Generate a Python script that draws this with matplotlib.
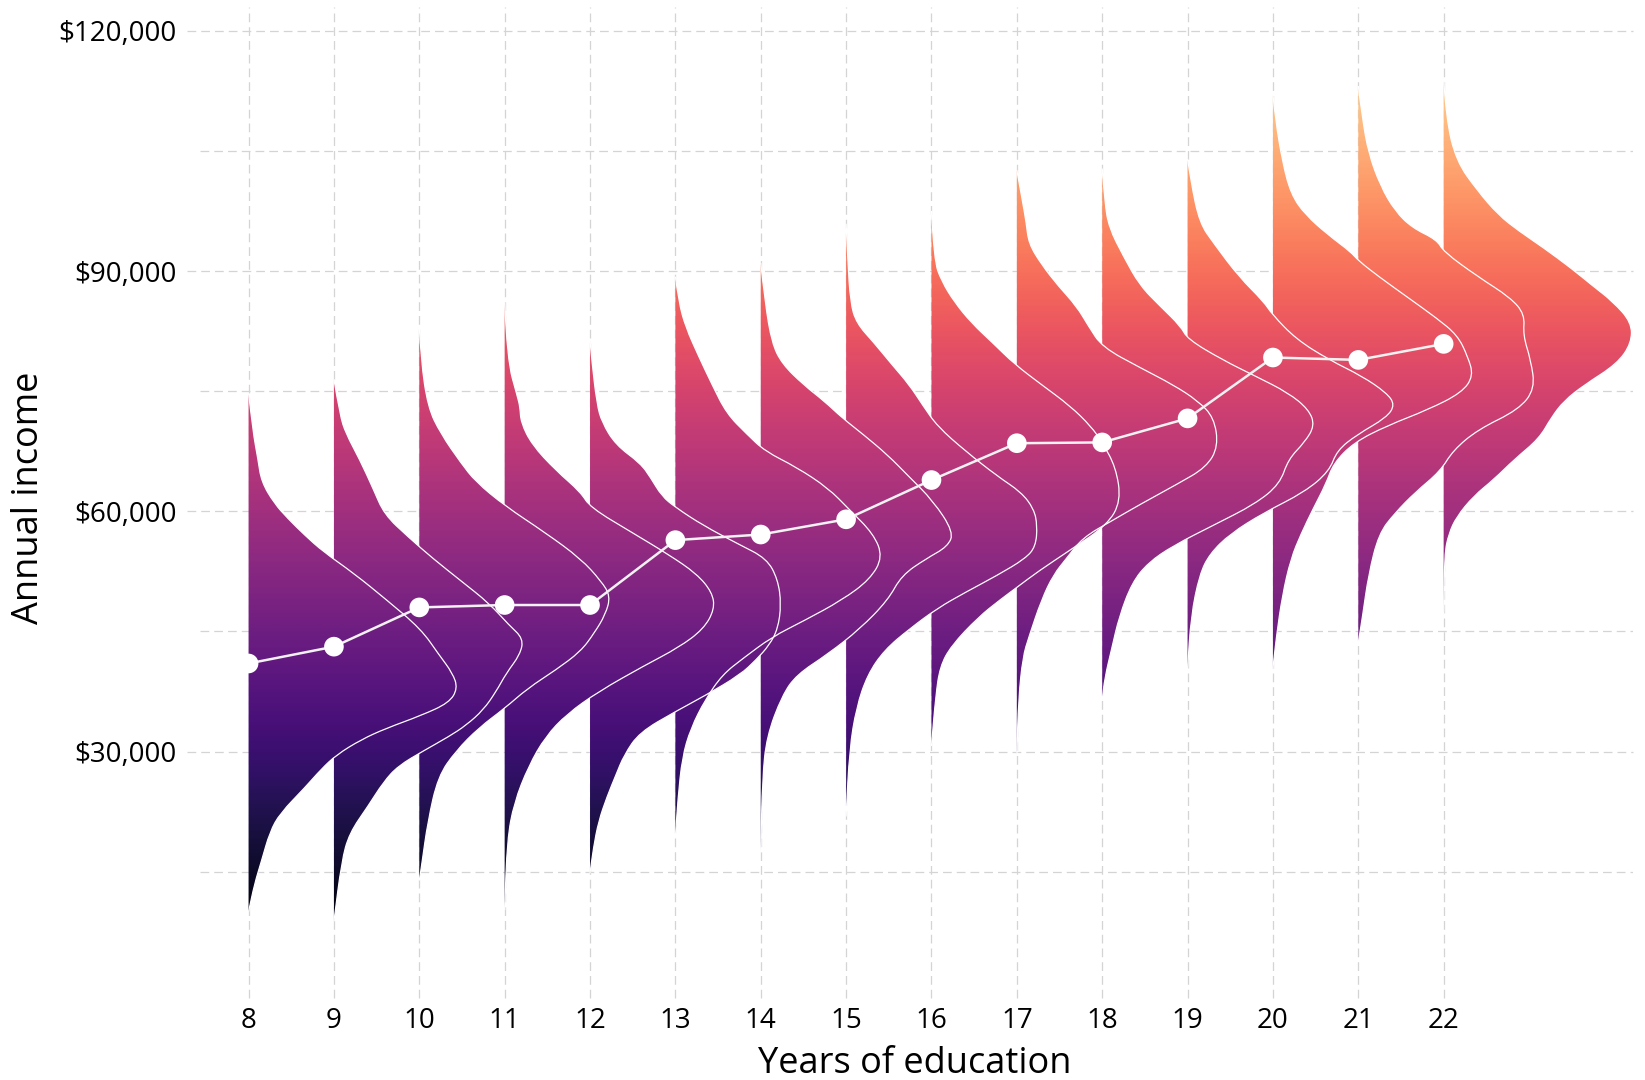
import numpy as np
import matplotlib.pyplot as plt
from matplotlib.path import Path
from matplotlib.patches import PathPatch

plt.rcParams['font.family'] = ['Open Sans', 'DejaVu Sans']

# Years of education and mean annual income (thousand $)
years = [8, 9, 10, 11, 12, 13, 14, 15, 16, 17, 18, 19, 20, 21, 22]
mean_income = [41.0, 43.1, 48.0, 48.3, 48.3, 56.4, 57.1, 59.0, 63.9,
               68.5, 68.6, 71.6, 79.2, 78.9, 80.9]

# Density profile of each group: income level (thousand $) and half-violin width (years)
inc_08 = [74.8, 70.0, 66.5, 63.7, 61.0, 59.1, 57.0, 55.0, 52.2, 49.0, 45.3, 42.1, 39.8, 37.9,
          36.1, 34.5, 32.9, 31.5, 29.6, 27.8, 25.5, 22.3, 20.0, 16.3, 13.5, 10.0]
den_08 = [0, 0.05, 0.11, 0.15, 0.30, 0.46, 0.66, 0.87, 1.24, 1.61, 2.02, 2.23, 2.39, 2.45,
          2.35, 2.02, 1.61, 1.32, 1.03, 0.85, 0.66, 0.37, 0.25, 0.15, 0.07, 0]

inc_09 = [76.5, 72.0, 69.7, 66.5, 62.8, 59.6, 56.8, 54.1, 51.3, 48.5, 45.8, 44.1, 42.1,
          39.8, 37.5, 35.2, 33.3, 31.9, 30.1, 28.2, 26.2, 23.2, 19.8, 16.3, 8.8]
den_09 = [0, 0.07, 0.14, 0.30, 0.46, 0.59, 0.87, 1.16, 1.49, 1.82, 2.05, 2.22, 2.18,
          2.02, 1.90, 1.75, 1.55, 1.35, 1.05, 0.75, 0.58, 0.40, 0.18, 0.09, 0]

inc_10 = [83.0, 78.9, 73.0, 69.7, 66.0, 63.7, 60.7, 57.3, 54.1, 51.3, 49.4, 47.1, 44.8,
          42.5, 40.2, 37.9, 35.4, 33.0, 30.1, 26.9, 21.3, 16.0, 13.9]
den_10 = [0, 0.02, 0.10, 0.25, 0.49, 0.66, 1.0, 1.48, 1.89, 2.13, 2.24, 2.18, 2.05,
          1.89, 1.60, 1.27, 1.0, 0.70, 0.43, 0.22, 0.10, 0.03, 0]

inc_11 = [86.1, 78.9, 74.3, 73.0, 71.1, 68.3, 65.1, 62.4, 60.5, 57.3, 54.6, 52.2, 49.9,
          47.8, 45.3, 43.0, 40.7, 37.5, 34.7, 31.9, 28.2, 23.6, 19.0, 10.2]
den_11 = [0, 0.03, 0.15, 0.18, 0.19, 0.32, 0.60, 0.89, 1.0, 1.5, 1.92, 2.25, 2.43,
          2.46, 2.33, 2.04, 1.63, 1.10, 0.73, 0.48, 0.28, 0.11, 0.03, 0]

inc_12 = [81.3, 78.9, 73.4, 71.1, 68.3, 66.0, 64.2, 61.9, 60.5, 58.2, 55.9, 54.1, 51.5,
          48.4, 45.3, 43.3, 41.5, 39.6, 37.0, 35.0, 32.4, 29.6, 27.0, 24.4, 21.3, 18.0, 14.8]
den_12 = [0, 0.02, 0.08, 0.14, 0.30, 0.59, 0.71, 0.84, 1.0, 1.33, 1.74, 2.07, 2.20,
          2.24, 2.20, 2.10, 1.95, 1.76, 1.35, 1.0, 0.58, 0.40, 0.30, 0.20, 0.10, 0.04, 0]

inc_13 = [89.3, 86.1, 83.0, 79.4, 75.8, 72.2, 69.6, 67.5, 65.5, 62.9, 60.3, 57.2, 54.3,
          51.5, 48.9, 46.3, 44.3, 41.7, 39.6, 36.5, 32.9, 29.3, 24.1, 19.3]
den_13 = [0, 0.04, 0.12, 0.27, 0.43, 0.60, 0.84, 1.05, 1.42, 1.79, 2.03, 2.32, 2.43,
          2.28, 1.95, 1.50, 1.13, 0.80, 0.55, 0.35, 0.18, 0.08, 0.03, 0]

inc_14 = [91.0, 86.1, 81.0, 78.4, 75.8, 73.7, 71.7, 69.6, 67.0, 64.4, 61.3, 57.4, 55.6,
          54.1, 52.0, 48.9, 45.3, 42.2, 39.6, 37.0, 31.9, 26.7, 17.4]
den_14 = [0, 0.05, 0.13, 0.25, 0.50, 0.75, 0.95, 1.20, 1.49, 1.73, 2.02, 2.26, 2.19,
          1.94, 1.65, 1.49, 1.16, 0.79, 0.42, 0.25, 0.07, 0.02, 0]

inc_15 = [95.9, 91.3, 86.1, 83.5, 81.0, 78.4, 75.8, 73.2, 70.6, 67.5, 64.4, 62.4, 60.3,
          58.2, 55.6, 54.1, 52.0, 49.9, 47.9, 45.3, 42.7, 39.6, 35.5, 30.3, 21.9]
den_15 = [0, 0.02, 0.05, 0.12, 0.33, 0.53, 0.74, 0.90, 1.07, 1.40, 1.77, 2.05, 2.20,
          2.24, 2.22, 2.10, 1.77, 1.40, 1.07, 0.74, 0.45, 0.25, 0.12, 0.04, 0]

inc_16 = [97.5, 91.3, 88.7, 86.1, 83.5, 81.0, 78.4, 75.8, 73.2, 70.6, 68.6, 65.5, 61.3,
          58.3, 55.2, 52.5, 50.5, 49.0, 46.8, 43.2, 40.6, 37.0, 30.7]
den_16 = [0, 0.03, 0.12, 0.27, 0.47, 0.72, 0.97, 1.29, 1.62, 1.87, 2.0, 2.16, 2.22,
          2.06, 1.63, 1.25, 1.0, 0.81, 0.55, 0.23, 0.10, 0.05, 0]

inc_17 = [102.6, 98.5, 96.0, 93.4, 90.8, 88.2, 85.6, 83.1, 80.5, 77.9, 75.8, 73.8, 71.7,
          68.1, 65.5, 63.4, 60.9, 58.8, 56.7, 54.1, 52.1, 49.0, 44.3, 41.8, 36.6, 29.5]
den_17 = [0, 0.07, 0.11, 0.14, 0.29, 0.48, 0.70, 0.84, 1.0, 1.45, 1.83, 2.12, 2.31,
          2.36, 2.22, 1.88, 1.45, 1.11, 0.77, 0.58, 0.43, 0.29, 0.14, 0.07, 0.02, 0]

inc_18 = [102.8, 98.5, 95.4, 91.8, 88.2, 85.6, 83.1, 81.5, 78.9, 76.9, 74.8, 72.7, 70.7,
          68.6, 66.5, 63.4, 60.9, 58.3, 55.7, 53.6, 51.1, 46.9, 42.8, 39.2, 36.4]
den_18 = [0, 0.03, 0.08, 0.25, 0.44, 0.68, 0.92, 1.0, 1.41, 1.79, 2.18, 2.42, 2.49,
          2.37, 2.18, 2.08, 1.79, 1.31, 0.83, 0.54, 0.35, 0.20, 0.11, 0.03, 0]

inc_19 = [104.0, 101.1, 96.0, 93.4, 89.3, 86.2, 84.6, 81.5, 78.9, 76.9, 74.8, 73.3, 71.7,
          69.6, 67.6, 65.0, 62.4, 59.8, 57.2, 54.7, 52.1, 46.9, 40.3]
den_19 = [0, 0.04, 0.14, 0.31, 0.60, 0.89, 0.99, 1.27, 1.66, 2.04, 2.33, 2.43, 2.33,
          1.99, 1.75, 1.66, 1.37, 0.89, 0.50, 0.26, 0.14, 0.04, 0]

inc_20 = [112.0, 108.9, 103.7, 99.6, 97.0, 94.4, 92.4, 91.3, 89.3, 86.7, 84.1, 82.0, 79.4,
          76.9, 74.8, 72.7, 70.7, 68.6, 66.0, 63.4, 60.3, 57.2, 54.1, 49.5, 44.3, 40.4]
den_20 = [0, 0.03, 0.11, 0.21, 0.38, 0.66, 0.91, 1.0, 1.24, 1.58, 1.92, 2.16, 2.28,
          2.35, 2.21, 1.82, 1.34, 0.95, 0.71, 0.62, 0.47, 0.33, 0.21, 0.11, 0.04, 0]

inc_21 = [113.1, 108.9, 104.7, 100.6, 97.5, 95.4, 93.9, 92.4, 89.3, 86.7, 84.6, 82.0, 78.9,
          75.3, 72.7, 70.2, 67.6, 65.0, 62.4, 59.8, 57.2, 52.1, 46.9, 43.6]
den_21 = [0, 0.05, 0.12, 0.26, 0.43, 0.63, 0.92, 1.0, 1.40, 1.78, 1.95, 1.93, 2.02,
          2.07, 1.88, 1.40, 1.11, 0.96, 0.67, 0.43, 0.24, 0.12, 0.05, 0]

inc_22 = [114.0, 108.9, 103.7, 100.1, 97.0, 95.0, 92.9, 90.3, 88.2, 86.2, 83.6, 81.0, 78.4,
          75.8, 73.8, 71.7, 69.1, 66.5, 64.0, 61.9, 59.3, 57.2, 54.7, 46.8]
den_22 = [0, 0.03, 0.15, 0.39, 0.64, 0.88, 1.17, 1.50, 1.74, 1.98, 2.20, 2.20, 2.03,
          1.65, 1.41, 1.26, 1.12, 0.83, 0.59, 0.35, 0.15, 0.06, 0.01, 0]

income_profiles = [inc_08, inc_09, inc_10, inc_11, inc_12, inc_13, inc_14, inc_15,
                   inc_16, inc_17, inc_18, inc_19, inc_20, inc_21, inc_22]
width_profiles = [den_08, den_09, den_10, den_11, den_12, den_13, den_14, den_15,
                  den_16, den_17, den_18, den_19, den_20, den_21, den_22]

y_ticks = [30000, 60000, 90000, 120000]
y_minor = [15000, 45000, 75000, 105000]

grid_col = '#d4d4d4'
dash = (0, (7, 4))


def smooth_path(pts, close_at=None):
    # quadratic bezier through midpoints, using the read points as control points
    verts = [pts[0]]
    codes = [Path.MOVETO]
    for i in range(1, len(pts) - 1):
        mid = ((pts[i][0] + pts[i + 1][0]) / 2, (pts[i][1] + pts[i + 1][1]) / 2)
        verts += [pts[i], mid]
        codes += [Path.CURVE3, Path.CURVE3]
    verts.append(pts[-1])
    codes.append(Path.LINETO)
    if close_at is not None:
        for p in close_at:
            verts.append(p)
            codes.append(Path.LINETO)
        verts.append(pts[0])
        codes.append(Path.CLOSEPOLY)
    return Path(verts, codes)


fig = plt.figure(figsize=(16.45, 10.8), dpi=100)
ax = fig.add_axes([200 / 1645, 95 / 1080, 1433 / 1645, 978 / 1080])
xlim = (7.431, 24.218)
ylim = (860, 122960)
ax.set_xlim(*xlim)
ax.set_ylim(*ylim)

# grid (dashed), majors stick out a little like ticks
for y in y_ticks:
    ax.axhline(y, xmin=-0.009, xmax=1, color=grid_col, lw=0.9, ls=dash, zorder=0, clip_on=False)
for y in y_minor:
    ax.axhline(y, color=grid_col, lw=0.9, ls=dash, zorder=0)
for yr in years:
    ax.axvline(yr, ymin=-0.013, ymax=1, color=grid_col, lw=0.9, ls=dash, zorder=0, clip_on=False)

# gradient fill clipped to each half violin
grad = np.linspace(ylim[0], ylim[1], 600).reshape(-1, 1)
for yr, inc, w in zip(years, income_profiles, width_profiles):
    pts = [(yr + d, v * 1000) for v, d in zip(inc, w)]
    clip = PathPatch(smooth_path(pts, close_at=[(yr, inc[-1] * 1000), (yr, inc[0] * 1000)]),
                     transform=ax.transData)
    im = ax.imshow(grad, cmap='magma', vmin=6000, vmax=126000, origin='lower',
                   extent=[xlim[0], xlim[1], ylim[0], ylim[1]], aspect='auto',
                   interpolation='bilinear', zorder=1)
    im.set_clip_path(clip)

for yr, inc, w in zip(years, income_profiles, width_profiles):
    pts = [(yr + d, v * 1000) for v, d in zip(inc, w)]
    ax.add_patch(PathPatch(smooth_path(pts), facecolor='none', edgecolor='white',
                           lw=0.9, zorder=3))

# means
mean_dollars = [m * 1000 for m in mean_income]
ax.plot(years, mean_dollars, color='#f2f2f2', lw=1.8, zorder=4)
ax.scatter(years, mean_dollars, s=200, color='white', edgecolors='none', zorder=5)

for s in ax.spines.values():
    s.set_visible(False)

ax.set_xticks(years)
ax.set_xticklabels([str(y) for y in years])
ax.set_yticks(y_ticks)
ax.set_yticklabels(['${:,}'.format(v) for v in y_ticks])
ax.tick_params(axis='both', length=0, labelsize=20, colors='black')
ax.tick_params(axis='y', pad=17)
ax.tick_params(axis='x', pad=16)

fig.text(29 / 1645, 1 - 498 / 1080, 'Annual income', rotation=90, ha='center', va='center', fontsize=26)
fig.text(915 / 1645, 1 - 1064 / 1080, 'Years of education', ha='center', va='center', fontsize=26)

fig.savefig('out.png', dpi=100, facecolor='white')
